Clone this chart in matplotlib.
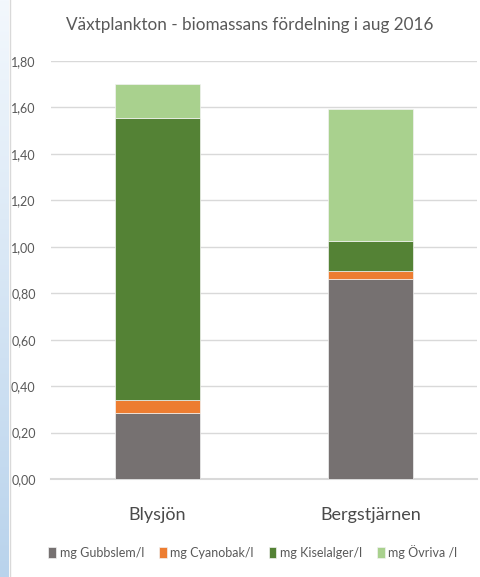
import matplotlib
matplotlib.use("Agg")
import matplotlib.pyplot as plt
import numpy as np
from matplotlib.colors import LinearSegmentedColormap

categories = ["Blysjön", "Bergstjärnen"]
series_names = ["mg Gubbslem/l", "mg Cyanobak/l", "mg Kiselalger/l", "mg Övriva /l"]
gubbslem = [0.285, 0.86]
cyanobak = [0.055, 0.035]
kiselalger = [1.215, 0.13]
ovriga = [0.145, 0.57]
colors = ["#767171", "#ED7D31", "#548235", "#A9D18E"]
yticks = [0.0, 0.2, 0.4, 0.6, 0.8, 1.0, 1.2, 1.4, 1.6, 1.8]
title = "Växtplankton - biomassans fördelning i aug 2016"

plt.rcParams['font.family'] = ['Lato', 'DejaVu Sans']
fig = plt.figure(figsize=(4.81, 5.77), dpi=100)
W, H = 481, 577

# left blue strip
strip = fig.add_axes([0, 0, 9 / W, 1])
grad = np.linspace(0, 1, 256).reshape(-1, 1)
cmap = LinearSegmentedColormap.from_list("s", ["#f3f8fd", "#b9d3ec"])
strip.imshow(grad, aspect="auto", cmap=cmap, origin="upper")
strip.axis("off")
fig.add_artist(plt.Line2D([9.5 / W, 9.5 / W], [0, 1], color="#d9d9d9", lw=1))

ax = fig.add_axes([51 / W, 1 - 479 / H, 426 / W, 418 / H])
x = np.arange(len(categories))
bottom = np.zeros(len(categories))
for vals, name, c in zip([gubbslem, cyanobak, kiselalger, ovriga], series_names, colors):
    ax.bar(x, vals, 0.4, bottom=bottom, color=c, label=name, edgecolor="#f2f2f2", linewidth=0.5, zorder=3)
    bottom += np.array(vals)

ax.set_xlim(-0.5, 1.5)
ax.set_ylim(0, 1.8)
ax.set_yticks(yticks)
ax.set_yticklabels([f"{v:.2f}".replace(".", ",") for v in yticks], fontsize=9, color="#595959")
ax.set_xticks(x)
ax.set_xticklabels(categories, fontsize=13, color="#4a4a4a")
ax.tick_params(axis="both", length=0)
ax.tick_params(axis="y", pad=11)
ax.tick_params(axis="x", pad=20)
ax.grid(axis="y", color="#d9d9d9", lw=1, zorder=0)
for s in ["top", "right", "left"]:
    ax.spines[s].set_visible(False)
ax.spines["bottom"].set_color("#d9d9d9")
ax.spines["bottom"].set_linewidth(1.5)

fig.text(250 / W, 1 - 25 / H, title, ha="center", va="center", fontsize=12.3, color="#595959")

handles, labels = ax.get_legend_handles_labels()
leg = fig.legend(handles, labels, loc="center", bbox_to_anchor=(253 / W, 1 - 552 / H), ncol=4,
                 frameon=False, fontsize=9, handlelength=0.6, handleheight=0.9,
                 handletextpad=0.3, columnspacing=1.2, labelcolor="#595959")

fig.savefig("out.png", dpi=100)
